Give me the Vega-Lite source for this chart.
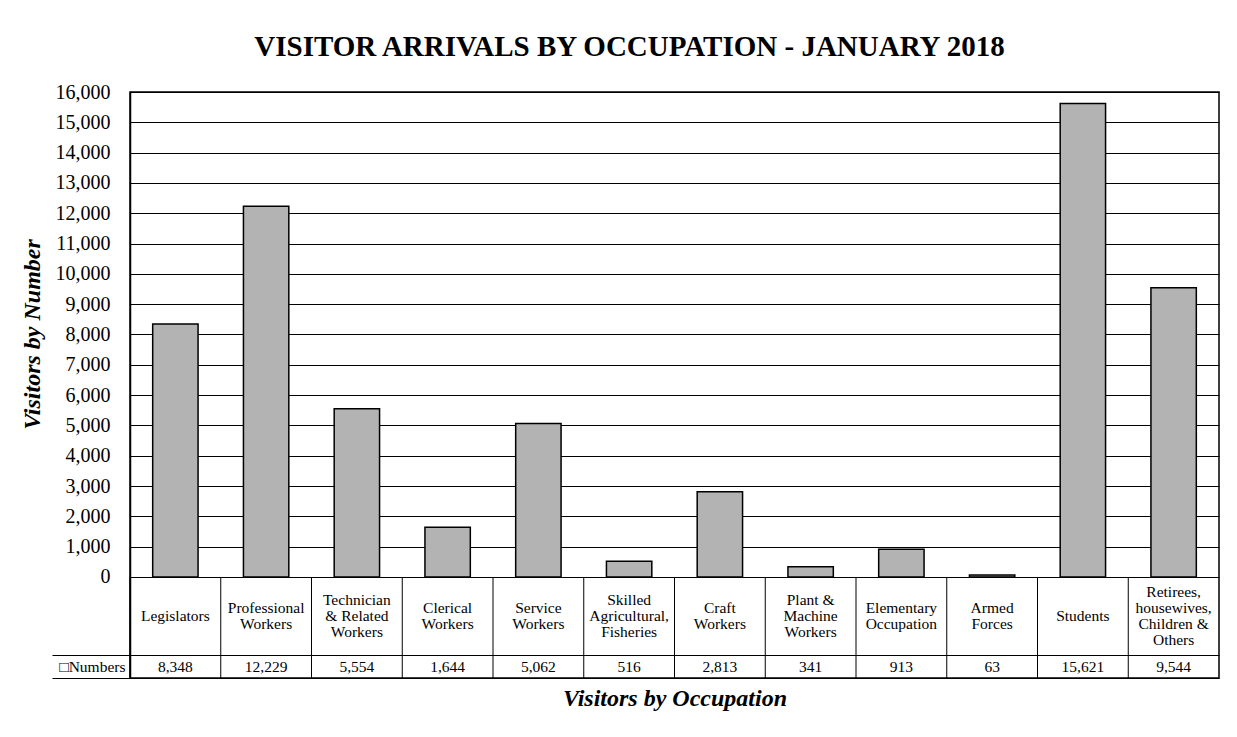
{
  "$schema": "https://vega.github.io/schema/vega-lite/v6.json",
  "width": 1089,
  "height": 586,
  "autosize": {"type": "none"},
  "padding": {"left": 130, "top": 92, "right": 18, "bottom": 59},
  "background": "white",
  "title": {
    "text": "VISITOR ARRIVALS BY OCCUPATION - JANUARY 2018",
    "font": "Liberation Serif",
    "fontSize": 29,
    "fontWeight": "bold",
    "color": "black",
    "anchor": "middle",
    "dx": -45,
    "offset": 20
  },
  "config": {
    "view": {"stroke": "black", "strokeWidth": 1.5},
    "font": "Liberation Serif",
    "text": {"font": "Liberation Serif", "color": "black"},
    "axis": {"labelColor": "black", "titleColor": "black", "labelFont": "Liberation Serif", "titleFont": "Liberation Serif"}
  },
  "data": {
    "values": [
      {"occupation": "Legislators", "label": ["Legislators"], "visitors": 8348},
      {"occupation": "Professional Workers", "label": ["Professional", "Workers"], "visitors": 12229},
      {"occupation": "Technician & Related Workers", "label": ["Technician", "& Related", "Workers"], "visitors": 5554},
      {"occupation": "Clerical Workers", "label": ["Clerical", "Workers"], "visitors": 1644},
      {"occupation": "Service Workers", "label": ["Service", "Workers"], "visitors": 5062},
      {"occupation": "Skilled Agricultural, Fisheries", "label": ["Skilled", "Agricultural,", "Fisheries"], "visitors": 516},
      {"occupation": "Craft Workers", "label": ["Craft", "Workers"], "visitors": 2813},
      {"occupation": "Plant & Machine Workers", "label": ["Plant &", "Machine", "Workers"], "visitors": 341},
      {"occupation": "Elementary Occupation", "label": ["Elementary", "Occupation"], "visitors": 913},
      {"occupation": "Armed Forces", "label": ["Armed", "Forces"], "visitors": 63},
      {"occupation": "Students", "label": ["Students"], "visitors": 15621},
      {"occupation": "Retirees, housewives, Children & Others", "label": ["Retirees,", "housewives,", "Children  &", "Others"], "visitors": 9544}
    ]
  },
  "encoding": {
    "x": {
      "field": "occupation",
      "type": "nominal",
      "sort": null,
      "scale": {"paddingInner": 0, "paddingOuter": 0},
      "axis": {
        "labels": false,
        "ticks": false,
        "domain": false,
        "grid": false,
        "title": "Visitors by Occupation",
        "titleFontSize": 24,
        "titleFontStyle": "italic",
        "titleFontWeight": "bold",
        "titlePadding": 8
      }
    }
  },
  "layer": [
    {
      "mark": {"type": "bar", "width": {"band": 0.5}, "fill": "#b3b3b3", "stroke": "black", "strokeWidth": 1.5},
      "encoding": {
        "y": {
          "field": "visitors",
          "type": "quantitative",
          "scale": {"domain": [-3332, 16000], "nice": false, "zero": false},
          "axis": {
            "values": [-3332, -2953, -2573, 0, 1000, 2000, 3000, 4000, 5000, 6000, 7000, 8000, 9000, 10000, 11000, 12000, 13000, 14000, 15000, 16000],
            "tickCount": 100,
            "labelExpr": "datum.value == -2953 ? '□Numbers' : (datum.value < 0 ? '' : format(datum.value, ','))",
            "labelOverlap": false,
            "labelBound": false,
            "labelFontSize": {"condition": {"test": "datum.value == -2953", "value": 15.5}, "value": 20},
            "labelPadding": {"condition": {"test": "datum.value == -2953", "value": 5}, "value": 20},
            "grid": true,
            "gridColor": "black",
            "gridWidth": 1.2,
            "gridOpacity": {"condition": {"test": "datum.value == -2953", "value": 0}, "value": 1},
            "domainColor": "black",
            "domainWidth": 1.5,
            "tickColor": "black",
            "tickWidth": 1,
            "tickSize": {"condition": {"test": "datum.value == -2573 || datum.value == -3332", "value": 78}, "value": 0},
            "title": "Visitors by Number",
            "titleFontSize": 24,
            "titleFontStyle": "italic",
            "titleFontWeight": "bold",
            "titleAngle": -90,
            "titleAlign": "center",
            "titleBaseline": "middle",
            "titleX": -98,
            "titleY": 242
          }
        },
        "y2": {"datum": 0}
      }
    },
    {
      "mark": {"type": "rule", "color": "black", "strokeWidth": 1},
      "encoding": {
        "x": {"field": "occupation", "type": "nominal", "sort": null, "bandPosition": 0},
        "y": {"datum": 0, "type": "quantitative"},
        "y2": {"datum": -3332}
      }
    },
    {
      "transform": [{"filter": "length(datum.label) == 1"}],
      "mark": {"type": "text", "fontSize": 15.5, "lineHeight": 16, "baseline": "middle", "align": "center", "dy": 0},
      "encoding": {
        "y": {"datum": -1287, "type": "quantitative"},
        "text": {"field": "label"}
      }
    },
    {
      "transform": [{"filter": "length(datum.label) == 2"}],
      "mark": {"type": "text", "fontSize": 15.5, "lineHeight": 16, "baseline": "middle", "align": "center", "dy": -8},
      "encoding": {
        "y": {"datum": -1287, "type": "quantitative"},
        "text": {"field": "label"}
      }
    },
    {
      "transform": [{"filter": "length(datum.label) == 3"}],
      "mark": {"type": "text", "fontSize": 15.5, "lineHeight": 16, "baseline": "middle", "align": "center", "dy": -16},
      "encoding": {
        "y": {"datum": -1287, "type": "quantitative"},
        "text": {"field": "label"}
      }
    },
    {
      "transform": [{"filter": "length(datum.label) == 4"}],
      "mark": {"type": "text", "fontSize": 15.5, "lineHeight": 16, "baseline": "middle", "align": "center", "dy": -24},
      "encoding": {
        "y": {"datum": -1287, "type": "quantitative"},
        "text": {"field": "label"}
      }
    },
    {
      "mark": {"type": "text", "fontSize": 15.5, "baseline": "middle", "align": "center"},
      "encoding": {
        "y": {"datum": -2953, "type": "quantitative"},
        "text": {"field": "visitors", "type": "quantitative", "format": ","}
      }
    }
  ]
}
